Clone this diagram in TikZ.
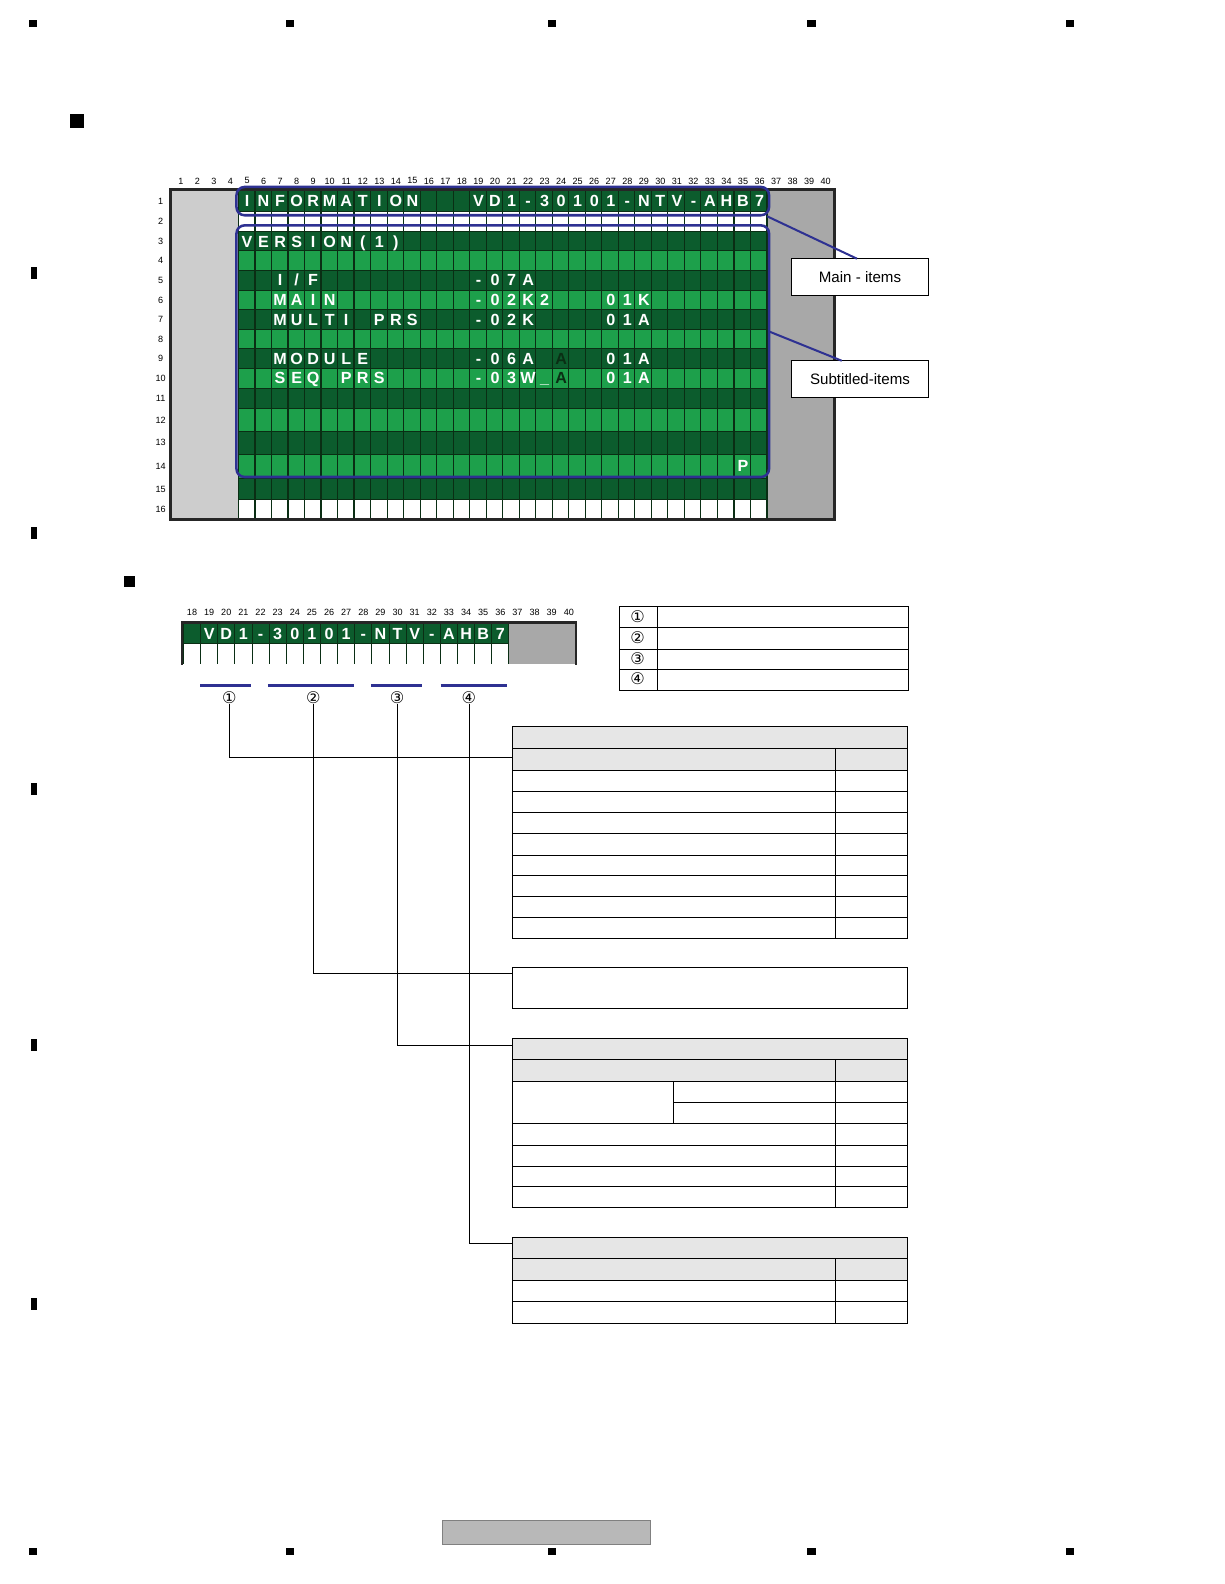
\documentclass[tikz,border=0pt]{standalone}
\usepackage{fontspec}
\setmainfont{Liberation Sans}
\newfontfamily\dejavu{DejaVu Sans}
\definecolor{dg}{HTML}{0C5C2D}
\definecolor{lg}{HTML}{1DA04B}
\definecolor{gl}{HTML}{0A2E14}
\definecolor{bl}{HTML}{2E3192}
\definecolor{pl}{HTML}{CDCDCD}
\definecolor{pr}{HTML}{A8A8A8}
\definecolor{hd}{HTML}{E6E6E6}
\tikzset{
 ch/.style={text=white,font=\bfseries\fontsize{16}{16}\selectfont,inner sep=0pt,text height=11.5bp,text depth=0pt},
 chd/.style={ch,text=gl},
 num/.style={font=\fontsize{9}{9}\selectfont,inner sep=0pt},
 callout/.style={draw=black,line width=0.6bp,minimum width=136bp,minimum height=36bp,font=\fontsize{15}{15}\selectfont,fill=white},
 bluebox/.style={draw=bl,line width=2.5bp,rounded corners=8bp},
 blueline/.style={draw=bl,line width=2bp},
 tline/.style={draw=black,line width=0.6bp},
 circ/.style={font=\dejavu\fontsize{16}{16}\selectfont,inner sep=0pt},
}
\newcommand\putchars[3]{\foreach \ch [count=\i from #2] in {#3} \node[ch] at ({179+(\i-1)*16.36},#1) {\ch};}
\newcommand\putlow[2]{\foreach \ch [count=\i from #1] in {#2} \node[ch] at ({190+(\i-18)*16.95},627) {\ch};}
\begin{document}
\begin{tikzpicture}[x=1bp,y=-1bp]
\useasboundingbox (0,0) rectangle (1211.2,1567.4);
% page marks
\foreach \x in {33,287,546,803,1059}{
 \fill (\x-4,20) rectangle (\x+4,27);
 \fill (\x-4,1532) rectangle (\x+4,1539);}
\foreach \y in {270,527,781,1034,1290} \fill (31,\y-6) rectangle (37,\y+6);
\fill (69,113) rectangle (83,127);
\fill (123,570) rectangle (134,581);
\draw[fill=pl!90!black,draw=gray] (438,1504) rectangle (643,1528);
% ===== top display =====
\fill[pl] (170,189) rectangle (236,514);
\fill[pr] (759,189) rectangle (824,514);
\foreach \ya/\yb/\c in {189/209/dg,209/229/white,229/248/dg,248/268/lg,268/287/dg,287/306/lg,306/326/dg,326/345/lg,345/365/dg,365/384/lg,384/404/dg,404/427/lg,427/450/dg,450/473/lg,473/494/dg,494/514/white}
 \fill[\c] (236,\ya) rectangle (759,\yb);
\foreach \k in {0,...,32} \draw[gl,line width=1.2bp] ({236+\k*16.34},189) -- ({236+\k*16.34},514);
\foreach \y in {209,229,248,268,287,306,326,345,365,384,404,427,450,473,494}
 \draw[gl,line width=0.8bp] (236,\y) -- (759,\y);
\draw[line width=3bp,draw=black!85] (168.5,187.5) rectangle (825.5,514.5);
% column / row numbers
\foreach \k in {1,...,40} \node[num] at ({179+(\k-1)*16.36},179) {\k};
\foreach \r/\y in {1/199,2/219,3/239,4/258,5/277,6/297,7/316,8/336,9/355,10/374,11/394,12/416,13/438,14/461,15/484,16/504}
 \node[num] at (159,\y) {\r};
% texts
\putchars{199}{5}{I,N,F,O,R,M,A,T,I,O,N,{},{},{},V,D,1,-,3,0,1,0,1,-,N,T,V,-,A,H,B,7}
\putchars{239}{5}{V,E,R,S,I,O,N,{(},1,{)}}
\putchars{277}{7}{I,/,F}
\putchars{277}{19}{-,0,7,A}
\putchars{297}{7}{M,A,I,N}
\putchars{297}{19}{-,0,2,K,2}
\putchars{297}{27}{0,1,K}
\putchars{316}{7}{M,U,L,T,I,{},P,R,S}
\putchars{316}{19}{-,0,2,K}
\putchars{316}{27}{0,1,A}
\putchars{355}{7}{M,O,D,U,L,E}
\putchars{355}{19}{-,0,6,A}
\putchars{355}{27}{0,1,A}
\putchars{374}{7}{S,E,Q,{},P,R,S}
\putchars{374}{19}{-,0,3,W,\_}
\putchars{374}{27}{0,1,A}
\node[chd] (dA1) at ({179+23*16.36},355) {A};
\node[chd] (dA2) at ({179+23*16.36},374) {A};
\node[ch] (pP) at ({179+34*16.36},461) {P};
% blue boxes and callouts
\draw[bluebox] (234,185) rectangle (761,213);
\draw[bluebox] (234,223) rectangle (761,472);
\node[callout] (mainit) at (851,274) {Main - items};
\node[callout] (subit) at (851,375) {Subtitled-items};
\coordinate (m0) at (759,214);
\coordinate (s0) at (761,328);
\draw[blueline] (m0) -- (848,256);
\draw[blueline] (s0) -- (833,357);
% ===== lower display =====
\fill[dg] (181.5,617) rectangle ({181.5+19*16.95},637);
\fill[white] (181.5,637) rectangle ({181.5+19*16.95},657);
\fill[pr] ({181.5+19*16.95},617) rectangle (569,657);
\foreach \k in {0,...,19} \draw[gl,line width=0.8bp] ({181.5+\k*16.95},617) -- ({181.5+\k*16.95},657);
\draw[gl,line width=0.8bp] (181.5,637) -- ({181.5+19*16.95},637);
\draw[line width=2.5bp,draw=black!85] (180,658) -- (180,616) -- (570,616) -- (570,658);
\foreach \k in {18,...,40} \node[num] at ({190+(\k-18)*16.95},606) {\k};
\putlow{19}{V,D,1,-,3,0,1,0,1,-,N,T,V,-,A,H,B,7}
% bars and circled numbers
\foreach \a/\b in {198/248,265/350,367/418,436/502}
 \draw[blueline,line width=3bp] (\a,678) -- (\b,678);
\node[circ] (c1) at (227,690) {①};
\node[circ] (c2) at (310,690) {②};
\node[circ] (c3) at (393,690) {③};
\node[circ] (c4) at (464,690) {④};
% legend
\draw[tline] (613,600) rectangle (899,683);
\draw[tline] (650,600) -- (650,683);
\foreach \y in {621,642,662} \draw[tline] (613,\y) -- (899,\y);
\node[circ] (l1) at (631,610) {①};
\node[circ] (l2) at (631,631) {②};
\node[circ] (l3) at (631,652) {③};
\node[circ] (l4) at (631,672) {④};
% table A
\fill[hd] (507,719) rectangle (898,762);
\draw[tline] (507,719) rectangle (898,928);
\foreach \y in {740,762,783,804,825,846,866,887,908} \draw[tline] (507,\y) -- (898,\y);
\draw[tline] (827,740) -- (827,928);
\coordinate (tA) at (507,749);
% table B
\draw[tline] (507,957) rectangle (898,998);
\coordinate (tB) at (507,963);
% table C
\fill[hd] (507,1027) rectangle (898,1070);
\draw[tline] (507,1027) rectangle (898,1195);
\foreach \y in {1048,1070,1112,1133,1154,1174} \draw[tline] (507,\y) -- (898,\y);
\draw[tline] (666,1091) -- (898,1091);
\draw[tline] (666,1070) -- (666,1112);
\draw[tline] (827,1048) -- (827,1195);
\coordinate (tC) at (507,1034);
% table D
\fill[hd] (507,1224) rectangle (898,1267);
\draw[tline] (507,1224) rectangle (898,1309);
\foreach \y in {1245,1267,1288} \draw[tline] (507,\y) -- (898,\y);
\draw[tline] (827,1245) -- (827,1309);
\coordinate (tD) at (507,1230);
% connectors
\draw[tline] (c1.south) |- (tA);
\draw[tline] (c2.south) |- (tB);
\draw[tline] (c3.south) |- (tC);
\draw[tline] (c4.south) |- (tD);
\end{tikzpicture}
\end{document}
